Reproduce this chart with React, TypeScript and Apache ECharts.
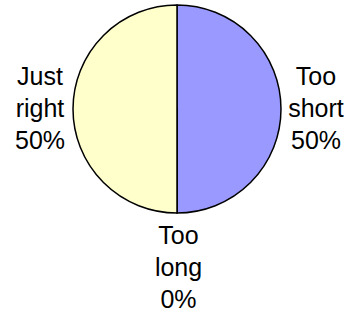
import React, { useEffect, useRef } from "react";
import * as echarts from "echarts";

const categories = ["Too short", "Too long", "Just right"];
const values = [50, 0, 50];
const colors = ["#9999FF", "#FF00FF", "#FFFFCC"];

const CX = 177;
const CY = 109;
const R = 104;

export default function App() {
  const ref = useRef<HTMLDivElement>(null);
  useEffect(() => {
    document.body.style.margin = "0";
    const chart = echarts.init(ref.current!, null, { renderer: "svg" });
    const labelPos = [
      { x: CX + R + 35, y: CY - 1 },
      { x: CX + 1.5, y: CY + R + 54 },
      { x: CX - R - 33, y: CY - 1 },
    ];
    chart.setOption({
      animation: false,
      backgroundColor: "#ffffff",
      series: [
        {
          type: "pie",
          center: [CX, CY],
          radius: [0, R],
          startAngle: 90,
          clockwise: true,
          avoidLabelOverlap: false,
          stillShowZeroSum: true,
          itemStyle: { borderColor: "#000000", borderWidth: 1.5 },
          label: {
            show: true,
            position: "outside",
            fontFamily: "Liberation Sans, Arial, sans-serif",
            fontSize: 25,
            lineHeight: 32,
            color: "#000000",
            align: "center",
            formatter: (p: any) =>
              p.name.split(" ").join("\n") + "\n" + Math.round(p.percent) + "%",
          },
          labelLine: { show: false },
          labelLayout: (params: any) => {
            const pos = labelPos[params.dataIndex];
            return { x: pos.x, y: pos.y, align: "center", verticalAlign: "middle" };
          },
          emphasis: { disabled: true },
          data: categories.map((c, i) => ({
            name: c,
            value: values[i],
            itemStyle: { color: colors[i] },
          })),
        },
      ],
    });
    return () => chart.dispose();
  }, []);
  return <div ref={ref} style={{ width: 354, height: 320 }} />;
}
